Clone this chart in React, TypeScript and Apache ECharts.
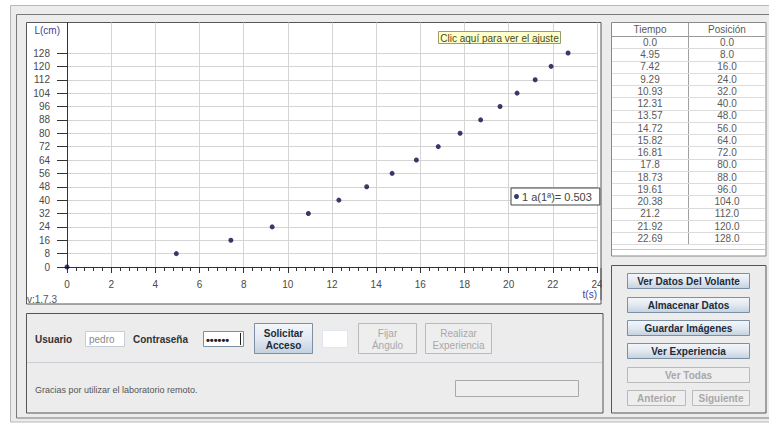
import React, { useEffect, useRef } from "react";
import * as echarts from "echarts";

// ---- data ----
const times = [0.0, 4.95, 7.42, 9.29, 10.93, 12.31, 13.57, 14.72, 15.82, 16.81, 17.8, 18.73, 19.61, 20.38, 21.2, 21.92, 22.69];
const positions = [0, 8, 16, 24, 32, 40, 48, 56, 64, 72, 80, 88, 96, 104, 112, 120, 128];
const seriesName = "1";
const fitSlope = 0.503;
const xAxisName = "t(s)";
const yAxisName = "L(cm)";
const versionText = "v:1.7.3";
const fitHint = "Clic aquí para ver el ajuste";
const tableHeaders = ["Tiempo", "Posición"];
const sideButtons = ["Ver Datos Del Volante", "Almacenar Datos", "Guardar Imágenes", "Ver Experiencia"];
const disabledButtons = ["Ver Todas", "Anterior", "Siguiente"];
const userName = "pedro";
const farewell = "Gracias por utilizar el laboratorio remoto.";

const FONT = "'Liberation Sans', Arial, sans-serif";

const fmt1 = (v: number) => (Number.isInteger(v) ? v.toFixed(1) : String(v));

function btnGradient() {
  return new echarts.graphic.LinearGradient(0, 0, 0, 1, [
    { offset: 0, color: "#f4f7fa" },
    { offset: 0.5, color: "#e2e9f1" },
    { offset: 1, color: "#c3d1df" },
  ]);
}

function txt(x: number, y: number, text: string, opts: any = {}) {
  return {
    type: "text",
    x,
    y,
    z: opts.z ?? 5,
    style: {
      text,
      fill: opts.fill ?? "#333",
      fontSize: opts.fontSize ?? 10,
      fontFamily: FONT,
      fontWeight: opts.fontWeight ?? "normal",
      align: opts.align ?? "left",
      verticalAlign: opts.verticalAlign ?? "middle",
      lineHeight: opts.lineHeight,
    },
  };
}

function rect(x: number, y: number, w: number, h: number, fill: any, stroke: string | null, z = -5, lw = 1) {
  return {
    type: "rect",
    z,
    shape: { x, y, width: w, height: h },
    style: { fill, stroke: stroke ?? "none", lineWidth: lw },
  };
}

function line(x1: number, y1: number, x2: number, y2: number, stroke: string, z = -4, lw = 1) {
  return { type: "line", z, shape: { x1, y1, x2, y2 }, style: { stroke, lineWidth: lw } };
}

function button(x: number, y: number, w: number, h: number, label: string, enabled: boolean, bold = true) {
  return [
    rect(x + 0.5, y + 0.5, w, h, enabled ? btnGradient() : "#eeeeee", enabled ? "#7d8fa3" : "#b9b9b9", 3),
    txt(x + w / 2 + 0.5, y + h / 2 + 1, label, {
      align: "center",
      fontWeight: bold ? "bold" : "normal",
      fill: enabled ? "#1d2b3a" : "#a8a8a8",
      fontSize: 10,
      lineHeight: 12,
    }),
  ];
}

export default function App() {
  const ref = useRef<HTMLDivElement>(null);

  useEffect(() => {
    document.body.style.margin = "0";
    const chart = echarts.init(ref.current!, null, { renderer: "svg" });

    const graphics: any[] = [];
    // frames
    graphics.push(rect(10.5, 5.5, 770, 416.5, "#ececec", "#b8b8b8", -20));
    graphics.push(rect(16.5, 14.5, 770, 403.5, "none", "#7a7a7a", -19));
    // plot panel
    graphics.push(rect(26.5, 22.5, 574.5, 281.5, "#ffffff", "#555555", -10));
    // table panel
    graphics.push(rect(611.5, 22.5, 154.5, 233.5, "#ffffff", "#8a8a8a", -10));
    // buttons panel
    graphics.push(rect(611.5, 265.5, 154.5, 147.5, "#ececec", "#555555", -10));
    // bottom panel
    graphics.push(rect(26.5, 313.5, 576.5, 99.5, "#ececec", "#555555", -10));
    graphics.push(line(27, 362.5, 602, 362.5, "#c9ced6", -9));

    // cover to clip axis label at panel edge
    graphics.push(rect(602, 268, 9, 30, "#ececec", null, 50));
    graphics.push(line(601, 268, 601, 300, "#555555", 51));

    // version text
    graphics.push(txt(27, 299, versionText, { fontSize: 10, fill: "#555" }));
    // x axis name
    graphics.push(txt(597, 294, xAxisName, { fontSize: 10, fill: "#4040a0", align: "right" }));

    // fit hint box
    graphics.push(rect(438.5, 31.5, 122, 12, "#ffffcc", "#9c9c6a", 10));
    graphics.push(txt(499.5, 38, fitHint, { fontSize: 10, fill: "#4a4a18", align: "center", z: 11 }));

    // table
    const tx0 = 611, tx1 = 766, tMid = 688.5;
    const headerBottom = 36;
    const rowH = 12.25;
    graphics.push(line(612, headerBottom + 0.5, 765, headerBottom + 0.5, "#9a9a9a", -7));
    graphics.push(line(tMid, 23, tMid, headerBottom + times.length * rowH, "#a0a0a0", -7));
    graphics.push(txt(650, 29.5, tableHeaders[0], { fontSize: 10, fill: "#5a5a5a", align: "center" }));
    graphics.push(txt(727, 29.5, tableHeaders[1], { fontSize: 10, fill: "#5a5a5a", align: "center" }));
    times.forEach((t, i) => {
      const yTop = headerBottom + i * rowH;
      const yc = yTop + rowH / 2 + 0.3;
      graphics.push(line(tx0 + 1, Math.round(yTop + rowH) + 0.5, tx1 - 1, Math.round(yTop + rowH) + 0.5, "#dcdcdc", -7));
      graphics.push(txt(650, yc, fmt1(t), { fontSize: 10, fill: "#5a5a5a", align: "center" }));
      graphics.push(txt(727, yc, positions[i].toFixed(1), { fontSize: 10, fill: "#5a5a5a", align: "center" }));
    });
    graphics.push(line(612, 249.5, 765, 249.5, "#c8c8c8", -7));

    // side buttons
    const btnYs = [273, 297, 320, 343];
    sideButtons.forEach((b, i) => graphics.push(...button(627, btnYs[i], 122, 15, b, true)));
    graphics.push(...button(627, 367, 122, 15, disabledButtons[0], false));
    graphics.push(...button(627, 390, 58, 15, disabledButtons[1], false));
    graphics.push(...button(692, 390, 57, 15, disabledButtons[2], false));

    // bottom form
    graphics.push(txt(35, 339, "Usuario", { fontWeight: "bold", fill: "#333" }));
    graphics.push(rect(85.5, 331.5, 39, 15, "#ffffff", "#c5cdd6", 3));
    graphics.push(txt(89, 339.5, userName, { fill: "#8a8a8a", fontSize: 10 }));
    graphics.push(txt(133, 339, "Contraseña", { fontWeight: "bold", fill: "#333" }));
    graphics.push(rect(203.5, 331.5, 40, 15, "#ffffff", "#7d8fa3", 3));
    graphics.push(txt(206, 339.5, "••••••", { fill: "#222", fontSize: 11, fontWeight: "bold" }));
    graphics.push(line(240.5, 333, 240.5, 345, "#222", 4));
    graphics.push(...button(254, 323, 58, 30, "Solicitar\nAcceso", true));
    graphics.push(rect(322.5, 330.5, 25, 17, "#ffffff", "#e0e6ee", 3));
    graphics.push(...button(358, 323, 58, 30, "Fijar\nÁngulo", false, false));
    graphics.push(...button(425, 323, 66, 30, "Realizar\nExperiencia", false, false));
    graphics.push(rect(455.5, 380.5, 123, 16, "#eeeeee", "#a9a9a9", 3));
    graphics.push(txt(35, 390, farewell, { fontSize: 9, fill: "#555" }));

    const gridLeft = 67;
    const gridRight = 769 - 597;
    const gridBottom = 423 - 267;

    chart.setOption({
      animation: false,
      backgroundColor: "#ffffff",
      textStyle: { fontFamily: FONT },
      grid: [
        { left: gridLeft, right: gridRight, top: 22.5, bottom: gridBottom, containLabel: false },
        { left: gridLeft, right: gridRight, top: 53, bottom: gridBottom, containLabel: false },
      ],
      xAxis: [
        {
          type: "value",
          gridIndex: 0,
          min: 0,
          max: 24,
          interval: 2,
          axisLine: { show: true, onZero: false, lineStyle: { color: "#333", width: 1 } },
          axisTick: { show: true, length: 6, lineStyle: { color: "#333" } },
          minorTick: { show: true, splitNumber: 5, length: 4, lineStyle: { color: "#333" } },
          axisLabel: { margin: 12, color: "#4a4a4a", fontSize: 10, fontFamily: FONT },
          splitLine: { show: true, lineStyle: { color: "#d4d4d4", width: 1 } },
        },
        {
          type: "value",
          gridIndex: 1,
          min: 0,
          max: 24,
          show: false,
        },
      ],
      yAxis: [
        {
          type: "value",
          gridIndex: 0,
          min: 0,
          max: 1,
          axisLine: { show: true, onZero: false, lineStyle: { color: "#333", width: 1 } },
          axisTick: { show: false },
          axisLabel: { show: false },
          splitLine: { show: false },
        },
        {
          type: "value",
          gridIndex: 1,
          min: 0,
          max: 128,
          interval: 8,
          name: yAxisName,
          nameLocation: "end",
          nameGap: 18,
          nameTextStyle: { align: "right", color: "#4040a0", fontSize: 10, padding: [0, 7, 0, 0] },
          axisLine: { show: false },
          axisTick: { show: true, length: 10, lineStyle: { color: "#333" } },
          axisLabel: { margin: 17, color: "#4a4a4a", fontSize: 10, fontFamily: FONT },
          splitLine: { show: true, lineStyle: { color: "#d4d4d4", width: 1 } },
        },
      ],
      legend: {
        show: true,
        data: [seriesName],
        left: 511,
        top: 188,
        orient: "horizontal",
        icon: "circle",
        itemWidth: 5,
        itemHeight: 5,
        itemGap: 2,
        padding: [3, 8, 3, 3],
        backgroundColor: "#ffffff",
        borderColor: "#444",
        borderWidth: 1,
        borderRadius: 0,
        z: 20,
        textStyle: { color: "#444", fontSize: 11, fontFamily: FONT, padding: [0, 0, 0, -2] },
        formatter: (name: string) => `${name} a(1ª)= ${fitSlope}`,
      },
      series: [
        {
          name: seriesName,
          type: "scatter",
          xAxisIndex: 1,
          yAxisIndex: 1,
          symbol: "circle",
          symbolSize: 5,
          itemStyle: { color: "#0b0b45" },
          clip: false,
          data: times.map((t, i) => [t, positions[i]]),
          z: 5,
        },
      ],
      graphic: graphics,
    });

    return () => chart.dispose();
  }, []);

  return <div ref={ref} style={{ width: 769, height: 423 }} />;
}
